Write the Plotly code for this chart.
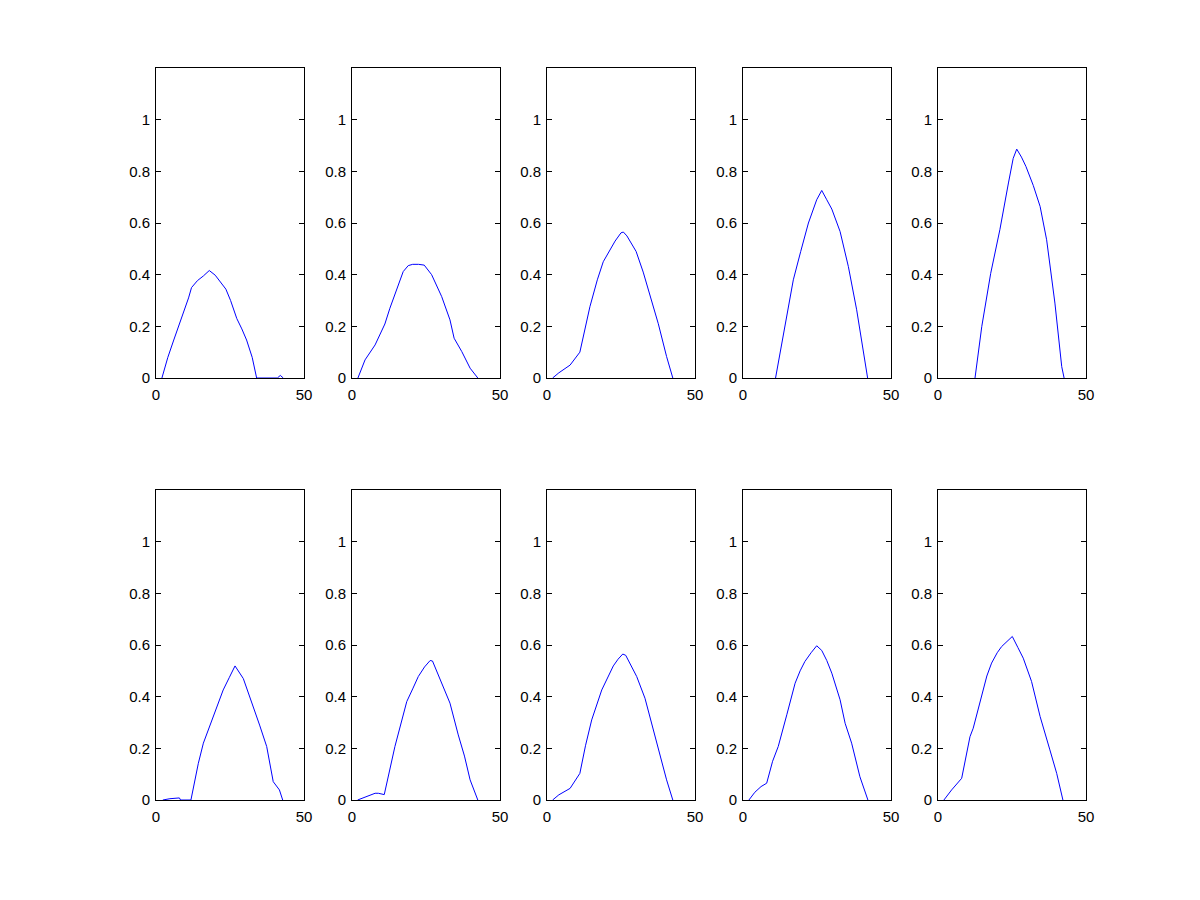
import plotly.graph_objects as go

# ---- data (x, y pairs per panel) ----
p1_x = [2, 4, 6, 8, 10, 11, 12, 14, 16, 18, 20, 22, 23.6, 25.2, 27.3, 29, 30.6, 32.5, 34, 41, 42, 43]
p1_y = [0, 0.08, 0.147, 0.21, 0.28, 0.31, 0.35, 0.377, 0.395, 0.416, 0.398, 0.37, 0.344, 0.30, 0.23, 0.19, 0.147, 0.08, 0, 0, 0.01, 0]

p2_x = [2, 4.4, 7.8, 11.1, 12.8, 15.6, 17.3, 19, 20.5, 22.5, 24.4, 26.9, 30.3, 33.1, 34.5, 37.1, 39.9, 42.5]
p2_y = [0, 0.07, 0.128, 0.209, 0.27, 0.354, 0.412, 0.435, 0.44, 0.44, 0.437, 0.40, 0.315, 0.225, 0.154, 0.102, 0.038, 0]

p3_x = [1.9, 4, 7.8, 11.1, 14.5, 17, 19, 21, 23, 25, 25.8, 27, 30.1, 32.5, 35, 37.6, 40.4, 42.5]
p3_y = [0, 0.02, 0.05, 0.10, 0.276, 0.38, 0.45, 0.49, 0.53, 0.562, 0.565, 0.55, 0.49, 0.41, 0.31, 0.21, 0.083, 0]

p4_x = [11, 14, 17, 19.5, 22.1, 24.9, 26.6, 28.3, 30, 32.8, 35.6, 38.4, 40.3, 42.1]
p4_y = [0, 0.19, 0.38, 0.49, 0.60, 0.69, 0.726, 0.69, 0.654, 0.567, 0.431, 0.264, 0.13, 0]

p5_x = [12.5, 14.8, 17.8, 20.9, 23.8, 25.4, 26.6, 28.2, 29.7, 32.2, 34.5, 36.7, 39.5, 41.8, 42.6]
p5_y = [0, 0.2, 0.405, 0.574, 0.755, 0.85, 0.886, 0.855, 0.819, 0.745, 0.664, 0.535, 0.29, 0.044, 0]

p6_x = [2.3, 4.7, 7.9, 8.3, 11.8, 14.3, 16, 18.2, 20.5, 22.7, 24.8, 26.7, 29.5, 32.9, 35, 37.4, 39.6, 41.7, 42.8]
p6_y = [0, 0.005, 0.008, 0, 0, 0.142, 0.22, 0.29, 0.36, 0.426, 0.475, 0.519, 0.47, 0.362, 0.29, 0.207, 0.071, 0.039, 0]

p7_x = [1.9, 5, 7.8, 8.9, 10.9, 14.5, 16.5, 18.5, 20.5, 22.4, 24.5, 26.4, 27.2, 30.3, 33.1, 35.9, 38, 39.9, 42.5]
p7_y = [0, 0.015, 0.026, 0.026, 0.021, 0.207, 0.30, 0.381, 0.43, 0.478, 0.515, 0.54, 0.538, 0.452, 0.375, 0.252, 0.17, 0.078, 0]

p8_x = [1.9, 4, 7.8, 11.1, 13, 15.1, 18.5, 20.5, 22.4, 24, 25.6, 26.6, 28.5, 30.3, 33.1, 35.5, 37.6, 40.4, 42.5]
p8_y = [0, 0.02, 0.045, 0.103, 0.21, 0.31, 0.426, 0.475, 0.519, 0.545, 0.565, 0.56, 0.52, 0.478, 0.394, 0.29, 0.207, 0.078, 0]

p9_x = [2, 4, 6.1, 8, 10, 11.9, 14.8, 17.6, 19.3, 20.9, 23, 24.9, 26.6, 28.3, 30, 32.8, 34.5, 36.7, 39.5, 42.2]
p9_y = [0, 0.03, 0.052, 0.065, 0.15, 0.207, 0.33, 0.452, 0.50, 0.536, 0.57, 0.597, 0.579, 0.54, 0.491, 0.388, 0.297, 0.22, 0.09, 0]

p10_x = [2, 4.6, 8, 10.8, 11.9, 14.8, 16.5, 18.1, 20, 21.5, 23.8, 25.1, 27, 28.8, 31.6, 34.5, 37.8, 40.1, 42.2]
p10_y = [0, 0.039, 0.084, 0.245, 0.278, 0.413, 0.48, 0.53, 0.57, 0.594, 0.617, 0.633, 0.59, 0.549, 0.459, 0.323, 0.194, 0.103, 0]

panels = [(p1_x, p1_y), (p2_x, p2_y), (p3_x, p3_y), (p4_x, p4_y), (p5_x, p5_y),
          (p6_x, p6_y), (p7_x, p7_y), (p8_x, p8_y), (p9_x, p9_y), (p10_x, p10_y)]

y_ticks = [0, 0.2, 0.4, 0.6, 0.8, 1]
y_labels = ["0", "0.2", "0.4", "0.6", "0.8", "1"]
x_ticks = [0, 50]
x_labels = ["0", "50"]

# ---- layout geometry (pixels in 1200x900) ----
W, H = 1200, 900
col_px = [(156, 304), (352, 500), (547, 695), (743, 891), (938, 1086)]
row_px = [(68, 378), (490, 800)]

fig = go.Figure()
layout = dict(
    width=W, height=H,
    margin=dict(l=0, r=0, t=0, b=0, pad=0, autoexpand=False),
    paper_bgcolor="white", plot_bgcolor="white",
    showlegend=False,
    font=dict(family="Liberation Sans, Arial, Helvetica, sans-serif", size=15, color="black"),
)

for i, (xs, ys) in enumerate(panels):
    r, c = divmod(i, 5)
    n = i + 1
    xa = "xaxis" if n == 1 else f"xaxis{n}"
    ya = "yaxis" if n == 1 else f"yaxis{n}"
    xref = "x" if n == 1 else f"x{n}"
    yref = "y" if n == 1 else f"y{n}"
    fig.add_trace(go.Scatter(x=xs, y=ys, mode="lines",
                             line=dict(color="#0000ff", width=1),
                             xaxis=xref, yaxis=yref, hoverinfo="skip"))
    x0, x1 = col_px[c]
    t0, t1 = row_px[r]
    common = dict(showline=True, linecolor="black", linewidth=1, mirror="ticks",
                  ticks="inside", ticklen=5, tickcolor="black", tickwidth=1,
                  showgrid=False, zeroline=False, automargin=False,
                  tickfont=dict(size=15, color="black"))
    layout[xa] = dict(domain=[x0 / W, x1 / W], range=[0, 50], anchor=yref,
                      tickvals=x_ticks, ticktext=x_labels, ticklabelstandoff=3, **common)
    layout[ya] = dict(domain=[1 - t1 / H, 1 - t0 / H], range=[0, 1.2], anchor=xref,
                      tickvals=y_ticks, ticktext=y_labels, ticklabelstandoff=2, **common)

fig.update_layout(**layout)

js = "document.documentElement.style.margin='0';document.body.style.margin='0';"
fig.write_html("out.html", config={"displayModeBar": False}, post_script=js)
